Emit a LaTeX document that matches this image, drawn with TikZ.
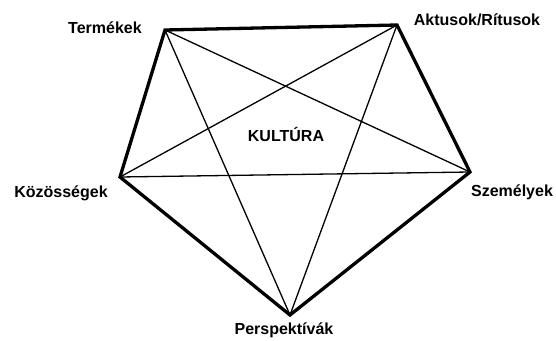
\documentclass[tikz,border=0pt]{standalone}
\usepackage{fontspec}
\setmainfont{Liberation Sans}
\usetikzlibrary{positioning}

\begin{document}
\begin{tikzpicture}[
    x=1pt, y=-1pt,
    font=\fontsize{16}{18}\selectfont\bfseries,
    edge/.style={line width=3.3pt, line join=miter},
    diag/.style={line width=1.3pt},
    lbl/.style={inner sep=0pt}
]
\useasboundingbox (0,0) rectangle (556,340);
% corners of the pentagon
\coordinate (t) at (165,30);
\coordinate (a) at (397,25);
\coordinate (s) at (470,172);
\coordinate (p) at (290,315);
\coordinate (k) at (120,177);

% outline
\draw[edge] (t) -- (a) -- (s) -- (p) -- (k) -- cycle;

% star
\draw[diag] (t) -- (s);
\draw[diag] (t) -- (p);
\draw[diag] (a) -- (k);
\draw[diag] (a) -- (p);
\draw[diag] (k) -- (s);

% labels
\node[lbl] (tl) at (105,28) {Termékek};
\node[lbl] (al) at (477,20) {Aktusok/Rítusok};
\node[lbl] (kl) at (61,193) {Közösségek};
\node[lbl] (sl) at (512,192) {Személyek};
\node[lbl] (pl) at (284,330) {Perspektívák};
\node[lbl] (ku) at (286,134) {KULTÚRA};
\end{tikzpicture}
\end{document}
